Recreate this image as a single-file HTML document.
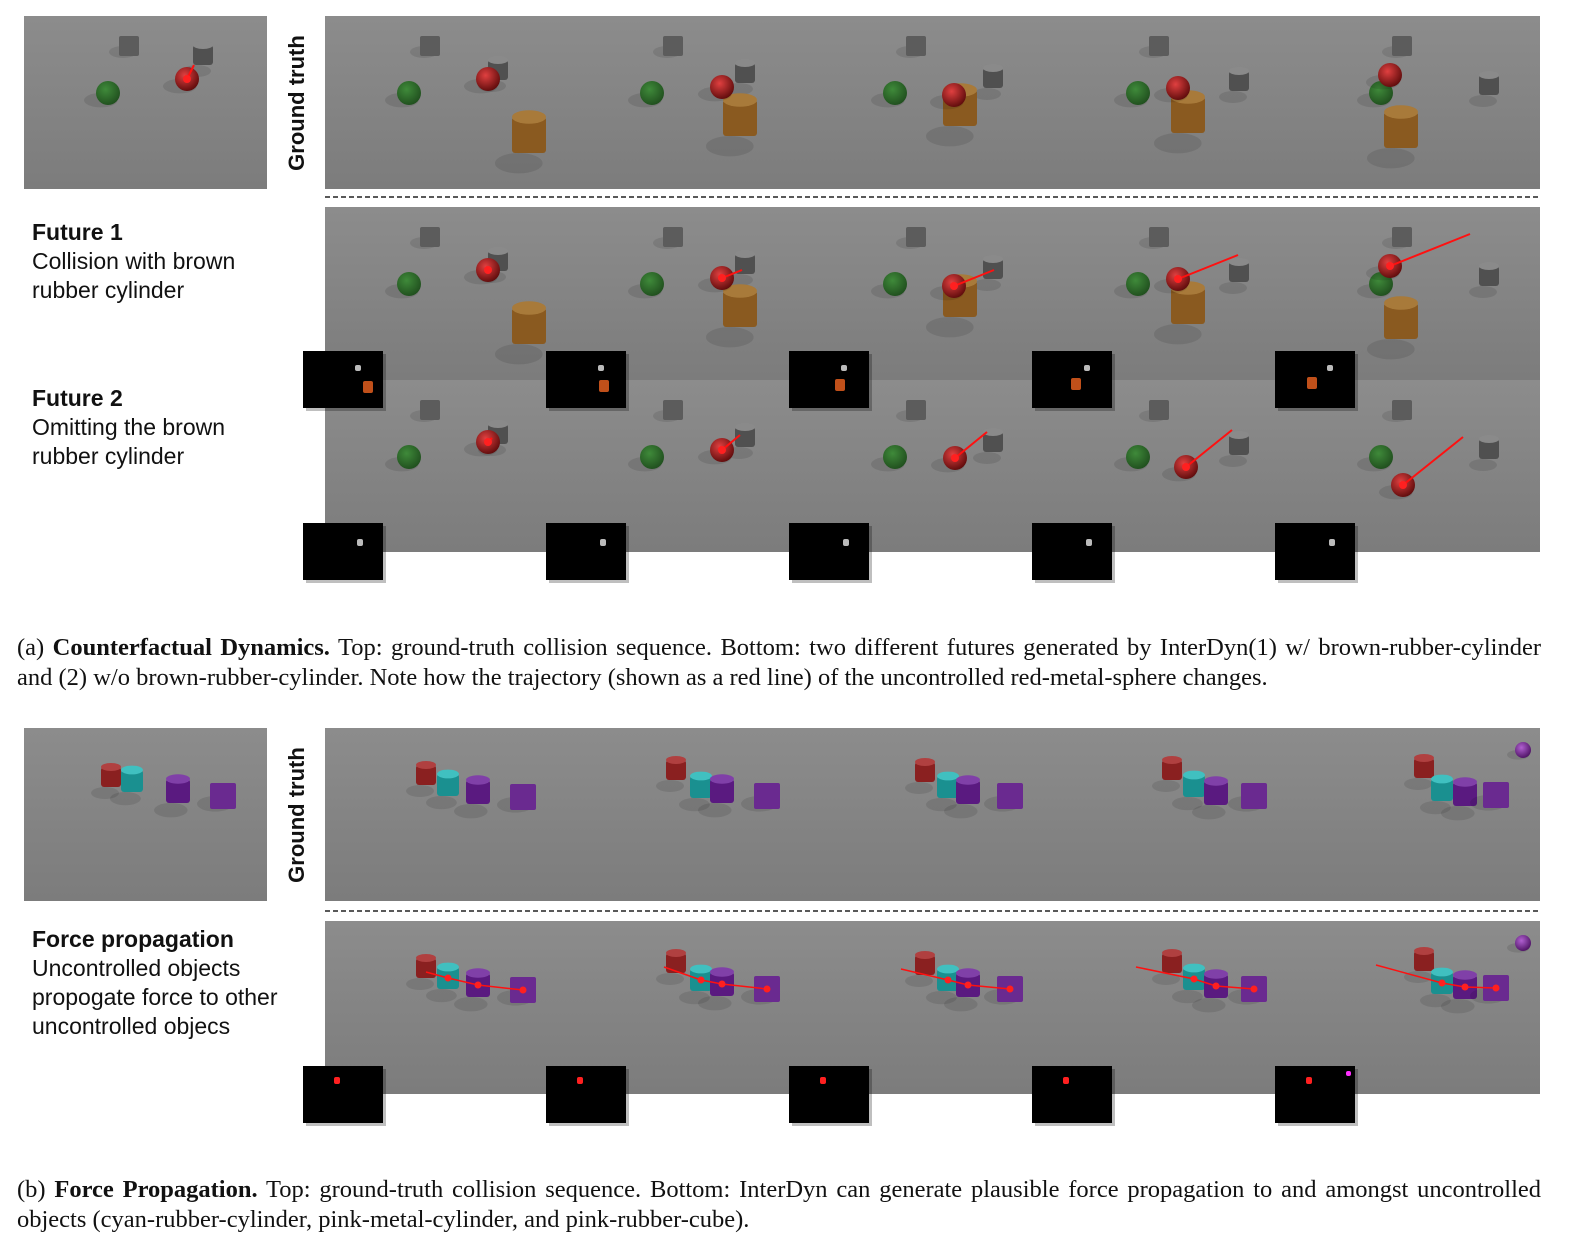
<!DOCTYPE html>
<html><head><meta charset="utf-8">
<style>
html,body{margin:0;padding:0;background:#fff;}
body{width:1584px;height:1260px;position:relative;overflow:hidden;}
.lbl{position:absolute;left:32px;font-family:"Liberation Sans",sans-serif;font-size:23px;line-height:29px;color:#111;}
.lbl b{font-weight:bold;}
.cap{position:absolute;left:17px;width:1524px;font-family:"Liberation Serif",serif;font-size:24.5px;line-height:30px;color:#111;}
.cap .l1{text-align:justify;text-align-last:justify;white-space:nowrap;}
svg{position:absolute;left:0;top:0;}
</style></head>
<body>
<svg id="fig" width="1584" height="1260">
<defs>
<linearGradient id="bg" x1="0" y1="0" x2="0" y2="1"><stop offset="0" stop-color="#8c8c8c"/><stop offset="1" stop-color="#7c7c7c"/></linearGradient>
<radialGradient id="gR" cx="0.4" cy="0.35" r="0.7"><stop offset="0" stop-color="#e04040"/><stop offset="1" stop-color="#5a0a0a"/></radialGradient>
<radialGradient id="gG" cx="0.4" cy="0.35" r="0.7"><stop offset="0" stop-color="#3f8a3a"/><stop offset="1" stop-color="#1f4d1d"/></radialGradient>
<radialGradient id="gP" cx="0.4" cy="0.35" r="0.7"><stop offset="0" stop-color="#b060d0"/><stop offset="1" stop-color="#4a1060"/></radialGradient>
</defs>
<text x="304" y="103" transform="rotate(-90 304 103)" text-anchor="middle" font-family="Liberation Sans,sans-serif" font-weight="bold" font-size="22" fill="#111">Ground truth</text>
<text x="304" y="815" transform="rotate(-90 304 815)" text-anchor="middle" font-family="Liberation Sans,sans-serif" font-weight="bold" font-size="22" fill="#111">Ground truth</text>
<line x1="325" y1="197" x2="1540" y2="197" stroke="#222" stroke-width="1.5" stroke-dasharray="5,3"/>
<line x1="325" y1="911" x2="1540" y2="911" stroke="#222" stroke-width="1.5" stroke-dasharray="5,3"/>
</svg>

<div class="lbl" style="top:218px"><b>Future 1</b><br>Collision with brown<br>rubber cylinder</div>
<div class="lbl" style="top:384px"><b>Future 2</b><br>Omitting the brown<br>rubber cylinder</div>
<div class="lbl" style="top:925px"><b>Force propagation</b><br>Uncontrolled objects<br>propogate force to other<br>uncontrolled objecs</div>

<div class="cap" style="top:633px">
<div class="l1">(a) <b>Counterfactual Dynamics.</b> Top: ground-truth collision sequence. Bottom: two different futures generated by InterDyn(1) w/ brown-rubber-cylinder</div>
<div>and (2) w/o brown-rubber-cylinder. Note how the trajectory (shown as a red line) of the uncontrolled red-metal-sphere changes.</div>
</div>
<div class="cap" style="top:1175px">
<div class="l1">(b) <b>Force Propagation.</b> Top: ground-truth collision sequence. Bottom: InterDyn can generate plausible force propagation to and amongst uncontrolled</div>
<div>objects (cyan-rubber-cylinder, pink-metal-cylinder, and pink-rubber-cube).</div>
</div>

<script>
const NS='http://www.w3.org/2000/svg';
const svg=document.getElementById('fig');
const frameX=[325,568,811,1054,1297];
const gtRed=[[163,63],[154,71],[143,79],[124,72],[93,59]];
const gtCyl=[[173,54],[177,57],[182,62],[185,65],[192,69]];
const gtBrown=[[204,119],[172,102],[149,92],[134,99],[104,114]];
const f2Red=[[163,62],[154,70],[144,78],[132,87],[106,105]];
const bRed=[[101,47],[108,42],[114,44],[118,42],[127,40]];
const bCyan=[[123,57],[133,59],[137,59],[140,58],[145,62]];
const bPurp=[[153,64],[154,63],[157,64],[162,65],[168,66]];
const bCube=[[198,69],[199,68],[199,68],[200,68],[199,67]];
const inB=[[87,49],[108,53],[154,63],[199,68]];
function el(t,a,name){const e=document.createElementNS(NS,t);for(const k in a)e.setAttribute(k,a[k]);


svg.appendChild(e);return e;}
function bg(x,y,w,h,n){el('rect',{x:x,y:y,width:w,height:h,fill:'url(#bg)'},n);}
function shadow(x,y,r){el('ellipse',{cx:x-r*0.6,cy:y+r*0.6,rx:r*1.4,ry:r*0.6,fill:'rgba(0,0,0,0.1)'},'shadow');}
function sphere(x,y,r,f,n){shadow(x,y,r);el('circle',{cx:x,cy:y,r:r,fill:f},n);}
function cube(x,y,s,f,n){shadow(x,y,s/2);el('rect',{x:x-s/2,y:y-s/2,width:s,height:s,fill:f,rx:2},n);}
function cyl(x,y,w,h,f,top,n){shadow(x,y+h/2,w/2);el('rect',{x:x-w/2,y:y-h/2,width:w,height:h,fill:f,rx:3},n);el('ellipse',{cx:x,cy:y-h/2,rx:w/2,ry:w/5,fill:top},n+'-top');}
function sceneA(fx,fy,red,cy,brown,traj,n){
  cube(fx+105,fy+30,20,'#5c5c5c',n+'-gray-cube');
  cyl(fx+cy[0],fy+cy[1],20,20,'#505050','#8a8a8a',n+'-gray-cylinder');
  sphere(fx+84,fy+77,12,'url(#gG)',n+'-green-sphere');
  if(brown)cyl(fx+brown[0],fy+brown[1],34,36,'#8a5a20','#a87a3a',n+'-brown-cylinder');
  sphere(fx+red[0],fy+red[1],12,'url(#gR)',n+'-red-sphere');
  if(traj){el('line',{x1:fx+red[0],y1:fy+red[1],x2:fx+red[0]+traj[0],y2:fy+red[1]+traj[1],stroke:'#ff1010','stroke-width':2},n+'-trajectory');
    el('circle',{cx:fx+red[0],cy:fy+red[1],r:4,fill:'#ff2020'},n+'-force-point');}
}
function sceneB(fx,fy,r,c,p,q,sph,traj,i,n){
  cyl(fx+r[0],fy+r[1],20,20,'#8a2020','#b04040',n+'-red-cylinder');
  cyl(fx+c[0],fy+c[1],22,22,'#1a9090','#40c0c0',n+'-cyan-cylinder');
  cyl(fx+p[0],fy+p[1],24,24,'#5a1a80','#8040a8',n+'-purple-cylinder');
  cube(fx+q[0],fy+q[1],26,'#6a2a90',n+'-purple-cube');
  if(sph)sphere(fx+226,fy+22,8,'url(#gP)',n+'-purple-sphere');
  if(traj){el('polyline',{points:`${fx+r[0]-12*i},${fy+r[1]+4} ${fx+c[0]},${fy+c[1]} ${fx+p[0]},${fy+p[1]} ${fx+q[0]},${fy+q[1]}`,fill:'none',stroke:'#ff1010','stroke-width':1.5},n+'-trajectory');
    [c,p,q].forEach(o=>el('circle',{cx:fx+o[0],cy:fy+o[1],r:3.5,fill:'#ff2020'},n+'-force-point'));}
}
function mask(x,y,items,n){el('rect',{x:x+3,y:y+3,width:80,height:57,fill:'rgba(0,0,0,0.25)'},n+'-shadow');el('rect',{x:x,y:y,width:80,height:57,fill:'#000'},n);
  items.forEach(t=>el('rect',{x:x+t[0],y:y+t[1],width:t[2],height:t[3],fill:t[4],rx:2},n+'-blob'));}
// Section A
bg(24,16,243,173,'input-frame-a');
sceneA(24,16,[163,63],[179,39],null,[7,-14],'input-a');
for(let i=0;i<5;i++){
  bg(frameX[i],16,243,173,'gt-frame-a-'+(i+1));
  sceneA(frameX[i],16,gtRed[i],gtCyl[i],gtBrown[i],null,'gt-a-'+(i+1));
}
for(let i=0;i<5;i++){
  bg(frameX[i],207,243,173,'future1-frame-'+(i+1));
  sceneA(frameX[i],207,gtRed[i],gtCyl[i],gtBrown[i],[i*20,-i*8],'future1-'+(i+1));
}
for(let i=0;i<5;i++){
  bg(frameX[i],380,243,172,'future2-frame-'+(i+1));
  sceneA(frameX[i],380,f2Red[i],gtCyl[i],null,[i*14+4,-i*11-4],'future2-'+(i+1));
}
for(let i=0;i<5;i++){
  mask(frameX[i]-22,351,[[52,14,6,6,'#bbb'],[60-i*7,30-i*1,10,12,'#c0501a']],'mask-future1-'+(i+1));
  mask(frameX[i]-22,523,[[54,16,6,7,'#bbb']],'mask-future2-'+(i+1));
}
// Section B
bg(24,728,243,173,'input-frame-b');
sceneB(24,728,inB[0],inB[1],inB[2],inB[3],false,false,0,'input-b');
for(let i=0;i<5;i++){
  bg(frameX[i],728,243,173,'gt-frame-b-'+(i+1));
  sceneB(frameX[i],728,bRed[i],bCyan[i],bPurp[i],bCube[i],i==4,false,i,'gt-b-'+(i+1));
  bg(frameX[i],921,243,173,'force-frame-'+(i+1));
  sceneB(frameX[i],921,bRed[i],bCyan[i],bPurp[i],bCube[i],i==4,true,i,'force-'+(i+1));
  mask(frameX[i]-22,1066,[[31,11,6,7,'#ff2020']].concat(i==4?[[71,5,5,5,'#ff30ff']]:[]),'mask-force-'+(i+1));
}
</script>
</body></html>
